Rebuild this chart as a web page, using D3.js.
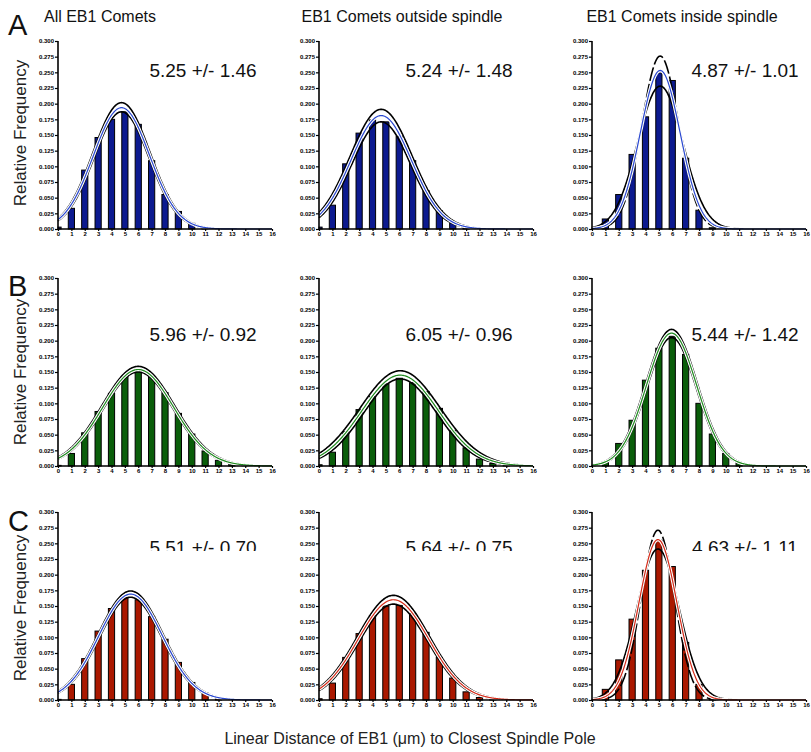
<!DOCTYPE html>
<html><head><meta charset="utf-8">
<script src="https://cdn.jsdelivr.net/npm/d3@7"></script>
<style>
body{margin:0;background:#fff;}
svg{display:block;}
text{font-family:"Liberation Sans",Arial,Helvetica,sans-serif;}
</style></head>
<body>
<svg id="chart" width="811" height="752"></svg>
<script>
// ---------- data ----------
const colTitles = ["All EB1 Comets", "EB1 Comets outside spindle", "EB1 Comets inside spindle"];
const rowLetters = ["A", "B", "C"];
const yLabel = "Relative Frequency";
const xLabel = "Linear Distance of EB1 (\u03bcm) to Closest Spindle Pole";
const binCenters = d3.range(0, 17);           // 0..16
const yTickValues = d3.range(0, 0.3001, 0.025);

// relative frequencies per bin (0..16)
const freqA_all = [0.003,0.033,0.094,0.146,0.175,0.187,0.167,0.109,0.055,0.028,0.009,0.002,0,0,0,0,0];
const freqA_out = [0.003,0.038,0.104,0.153,0.174,0.171,0.148,0.109,0.061,0.029,0.010,0.002,0,0,0,0,0];
const freqA_in  = [0.002,0.016,0.055,0.119,0.179,0.249,0.237,0.113,0.030,0.002,0,0,0,0,0,0,0];
const freqB_all = [0.001,0.020,0.053,0.087,0.116,0.143,0.155,0.143,0.117,0.084,0.051,0.024,0.009,0.003,0.001,0,0];
const freqB_out = [0.002,0.022,0.055,0.090,0.111,0.131,0.140,0.133,0.119,0.092,0.057,0.029,0.011,0.004,0.001,0,0];
const freqB_in  = [0.001,0.006,0.036,0.073,0.137,0.188,0.207,0.178,0.100,0.051,0.020,0.005,0.001,0,0,0,0];
const freqC_all = [0.001,0.025,0.066,0.110,0.146,0.164,0.160,0.133,0.097,0.060,0.028,0.011,0.003,0.001,0,0,0];
const freqC_out = [0.002,0.027,0.068,0.106,0.135,0.150,0.151,0.138,0.108,0.068,0.035,0.013,0.004,0.001,0,0,0];
const freqC_in  = [0.001,0.017,0.064,0.129,0.207,0.255,0.213,0.092,0.025,0.004,0,0,0,0,0,0,0];

// Gaussian fits: mean, [peak, sd] for upper, fitted, lower curves
const fitMean  = [4.75, 4.65, 5.10, 6.00, 6.07, 5.95, 5.43, 5.57, 4.93];
const fitUpper = [[0.2016,2.13],[0.191,2.33],[0.276,1.38],[0.159,2.72],[0.152,3.01],[0.218,1.92],[0.174,2.42],[0.167,2.70],[0.271,1.25]];
const fitMid   = [[0.1936,2.10],[0.181,2.26],[0.253,1.49],[0.154,2.66],[0.145,2.87],[0.212,1.88],[0.169,2.38],[0.160,2.64],[0.256,1.42]];
const fitLower = [[0.187,2.06],[0.171,2.19],[0.228,1.69],[0.150,2.62],[0.139,2.74],[0.205,1.85],[0.164,2.34],[0.153,2.58],[0.241,1.585]];
const upperDashed = [false,false,true,false,false,false,false,false,true];

const statLabels = ["5.25 +/- 1.46","5.24 +/- 1.48","4.87 +/- 1.01",
                    "5.96 +/- 0.92","6.05 +/- 0.96","5.44 +/- 1.42",
                    "5.51 +/- 0.70","5.64 +/- 0.75","4.63 +/- 1.11"];

const panels = [freqA_all,freqA_out,freqA_in,freqB_all,freqB_out,freqB_in,freqC_all,freqC_out,freqC_in];

// ---------- styles / layout ----------
const barFill = ["#0c1a8f","#0a5e0a","#aa1800"];
const midCurveColor = ["#2a48d0","#2a48d0","#2a48d0","#1f8a1f","#1f8a1f","#1f8a1f","#2a48d0","#d42a18","#d42a18"];
const axisX = [58, 319, 592];
const axisY0 = [229, 466, 700];
const plotW = 214, plotH = 188;

const svg = d3.select("#chart");

// clip for the row-C stat labels (cut at bottom as in original)
svg.append("defs").append("clipPath").attr("id","clipC")
  .append("rect").attr("x",0).attr("y",520).attr("width",811).attr("height",31);

// column titles
colTitles.forEach((t,i)=>{
  svg.append("text").attr("x",[100,402,682][i]).attr("y",22)
    .attr("text-anchor","middle").attr("font-size",16).attr("fill","#111").text(t);
});
// row letters + y labels
rowLetters.forEach((l,r)=>{
  svg.append("text").attr("x",8).attr("y",[35,296,531][r])
    .attr("font-size",29).attr("fill","#111").text(l);
  const cy = axisY0[r]-plotH/2+[-2,0,2][r];
  svg.append("text").attr("transform",`translate(26,${cy}) rotate(-90)`)
    .attr("text-anchor","middle").attr("font-size",17).attr("fill","#222").text(yLabel);
});
// x label
svg.append("text").attr("x",410).attr("y",744).attr("text-anchor","middle")
  .attr("font-size",16).attr("fill","#222").text(xLabel);

const gauss = (m,p,s)=> x => p*Math.exp(-((x-m)*(x-m))/(2*s*s));
const xs = d3.range(0, 16.0001, 0.05);

panels.forEach((freq,i)=>{
  const r = Math.floor(i/3), c = i%3;
  const x = d3.scaleLinear().domain([0,16]).range([axisX[c], axisX[c]+plotW]);
  const y = d3.scaleLinear().domain([0,0.3]).range([axisY0[r], axisY0[r]-plotH]);
  const g = svg.append("g");

  // bars
  const bw = 6.2;
  g.selectAll("rect.bar").data(freq.map((v,k)=>({k,v})).filter(d=>d.v>0))
    .join("rect").attr("class","bar")
    .attr("x",d=>Math.max(x(d.k)-bw/2, x(0)))
    .attr("width",d=>x(d.k)-bw/2 < x(0) ? bw/2 : bw)
    .attr("y",d=>y(d.v)).attr("height",d=>y(0)-y(d.v))
    .attr("fill",barFill[r]).attr("stroke","#000").attr("stroke-width",1);

  const line = f => d3.line().x(d=>x(d)).y(d=>y(f(d)))(xs);
  const m = fitMean[i];
  // lower curve
  g.append("path").attr("d",line(gauss(m,fitLower[i][0],fitLower[i][1])))
    .attr("fill","none").attr("stroke","#000").attr("stroke-width",1.6);
  // upper curve
  g.append("path").attr("d",line(gauss(m,fitUpper[i][0],fitUpper[i][1])))
    .attr("fill","none").attr("stroke","#000").attr("stroke-width",1.6)
    .attr("stroke-dasharray", upperDashed[i] ? "14,3" : null);
  // fitted curve with white halo
  const mid = line(gauss(m,fitMid[i][0],fitMid[i][1]));
  g.append("path").attr("d",mid).attr("fill","none").attr("stroke","#fff").attr("stroke-width",3.4);
  g.append("path").attr("d",mid).attr("fill","none").attr("stroke",midCurveColor[i]).attr("stroke-width",1.2);

  // axes
  const ya = d3.axisLeft(y).tickValues(yTickValues).tickFormat(d3.format(".3f")).tickSize(3).tickPadding(1);
  const yg = g.append("g").attr("transform",`translate(${x(0)},0)`).call(ya);
  const xa = d3.axisBottom(x).tickValues(binCenters).tickFormat(d3.format("d")).tickSize(2).tickPadding(1);
  const xg = g.append("g").attr("transform",`translate(0,${y(0)})`).call(xa);
  [yg,xg].forEach(a=>{
    a.select(".domain").attr("stroke","#000").attr("stroke-width",1.6);
    a.selectAll(".tick line").attr("stroke","#000").attr("stroke-width",1.2);
    a.selectAll(".tick text").attr("font-size",6).attr("font-weight","bold")
      .attr("fill","#000").attr("font-family","'Liberation Sans',Arial,sans-serif");
  });
  yg.select(".domain").attr("d",`M0,${y(0)}V${y(0.3)}`);
  xg.select(".domain").attr("d",`M${x(0)},0H${x(16)}`);

  // stat label
  const st = svg.append("text").attr("x",x(0)+[145,140,153][c]).attr("y",[77,341,554][r])
    .attr("text-anchor","middle").attr("font-size",19).attr("fill","#111").text(statLabels[i]);
  if (r === 2) st.attr("clip-path","url(#clipC)");
});
</script>
</body></html>
